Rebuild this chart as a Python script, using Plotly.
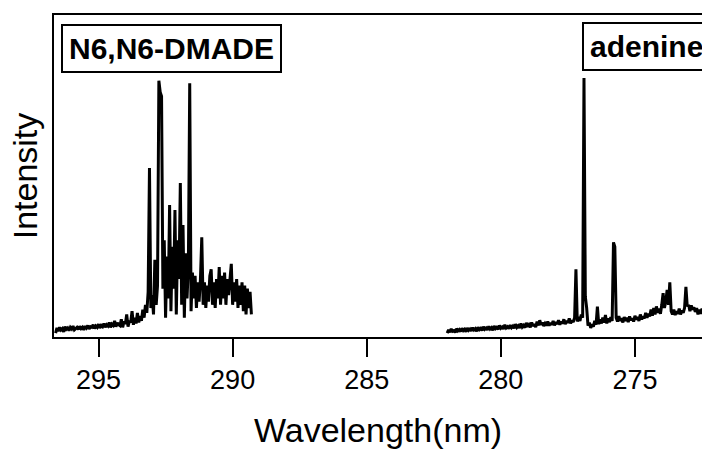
import numpy as np
import plotly.graph_objects as go

# N6,N6-DMADE spectrum: wavelength grid start/step (nm) and intensities
dmade_start = 296.60
dmade_step = 0.05
dmade_int = [
    0.012, 0.028, 0.018, 0.030, 0.022, 0.026, 0.016, 0.032, 0.024, 0.028,
    0.020, 0.030, 0.025, 0.034, 0.022, 0.028, 0.030, 0.024, 0.033, 0.026,
    0.030, 0.022, 0.034, 0.028, 0.036, 0.025, 0.032, 0.030, 0.038, 0.026,
    0.034, 0.030, 0.040, 0.028, 0.036, 0.032, 0.042, 0.030, 0.038, 0.034,
    0.045, 0.030, 0.040, 0.036, 0.050, 0.032, 0.044, 0.038,
    0.035, 0.055, 0.030, 0.048, 0.040, 0.070, 0.032, 0.050, 0.045, 0.080,
    0.038, 0.060, 0.042, 0.075, 0.045, 0.065, 0.050, 0.085, 0.060,
    0.100, 0.075, 0.140, 0.525, 0.090, 0.130, 0.070, 0.240, 0.100, 0.160,
    0.796, 0.760, 0.748, 0.150, 0.300, 0.060, 0.250, 0.120, 0.410, 0.080,
    0.280, 0.150, 0.394, 0.070, 0.300, 0.180, 0.478, 0.100, 0.348, 0.060,
    0.260, 0.120, 0.220, 0.788, 0.080, 0.200, 0.120, 0.190, 0.090, 0.170,
    0.110, 0.180, 0.310, 0.100, 0.170, 0.090, 0.160, 0.110, 0.190, 0.210,
    0.100, 0.170, 0.090, 0.180, 0.120, 0.217, 0.100, 0.190, 0.120, 0.200,
    0.100, 0.180, 0.130, 0.190, 0.227, 0.100, 0.170, 0.110, 0.180, 0.090,
    0.160, 0.100, 0.170, 0.080, 0.160, 0.070, 0.150, 0.090, 0.140, 0.070,
]

# adenine spectrum
adenine_start = 282.00
adenine_step = 0.05
adenine_int = [
    0.012, 0.022, 0.015, 0.025, 0.018, 0.020, 0.014, 0.026, 0.019, 0.023,
    0.017, 0.027, 0.020, 0.024, 0.016, 0.028, 0.021, 0.025, 0.019, 0.029,
    0.022, 0.026, 0.018, 0.030, 0.023, 0.027, 0.020, 0.032, 0.024, 0.028,
    0.022, 0.033, 0.025, 0.029, 0.021, 0.034, 0.026, 0.030, 0.024, 0.036,
    0.027, 0.031, 0.025, 0.038, 0.028, 0.032, 0.026, 0.037, 0.029, 0.034,
    0.027, 0.040, 0.030, 0.035, 0.028, 0.042, 0.031, 0.036, 0.029, 0.044,
    0.032, 0.038, 0.030, 0.045, 0.034, 0.040, 0.031, 0.048, 0.036, 0.052,
    0.038, 0.045, 0.034, 0.042, 0.036, 0.048, 0.035, 0.044, 0.038, 0.050,
    0.036, 0.046, 0.040, 0.052, 0.038, 0.048, 0.042, 0.055, 0.040, 0.050,
    0.044, 0.058, 0.042, 0.052, 0.046, 0.060,
    0.210, 0.048, 0.062, 0.050, 0.070, 0.060, 0.804, 0.125, 0.090, 0.035,
    0.045, 0.028, 0.040, 0.032, 0.050, 0.038, 0.094, 0.040, 0.055, 0.042,
    0.060, 0.045, 0.068, 0.042, 0.058, 0.046, 0.062, 0.050, 0.294, 0.280,
    0.060, 0.048, 0.065, 0.050, 0.058, 0.045, 0.062, 0.050, 0.060, 0.046,
    0.064, 0.052, 0.058, 0.048, 0.066, 0.054, 0.062, 0.050, 0.070, 0.055,
    0.064, 0.058, 0.075, 0.060, 0.072, 0.064, 0.085, 0.066, 0.090, 0.070,
    0.095, 0.075, 0.088, 0.072, 0.100, 0.136, 0.090, 0.110, 0.146, 0.100,
    0.170, 0.080, 0.070, 0.085, 0.068, 0.080, 0.072, 0.088, 0.070, 0.082,
    0.075, 0.090, 0.156, 0.095, 0.100, 0.080, 0.098, 0.085, 0.092, 0.078,
    0.090, 0.070, 0.085, 0.072, 0.088, 0.075, 0.082,
]

tick_vals = [295, 290, 285, 280, 275]
tick_text = ["295", "290", "285", "280", "275"]
labels = ["N6,N6-DMADE", "adenine"]

dmade_wl = dmade_start - dmade_step * np.arange(len(dmade_int))
adenine_wl = adenine_start - adenine_step * np.arange(len(adenine_int))

FONT = "Liberation Sans, Arial, sans-serif"

fig = go.Figure()
for wl, inten in [(dmade_wl, dmade_int), (adenine_wl, adenine_int)]:
    fig.add_trace(go.Scatter(x=wl, y=inten, mode="lines",
                             line=dict(color="black", width=3),
                             showlegend=False, hoverinfo="skip"))

fig.update_layout(
    width=702, height=449,
    margin=dict(l=54, r=0, t=15, b=112),
    paper_bgcolor="white", plot_bgcolor="white",
    font=dict(family=FONT, color="black"),
    xaxis=dict(
        range=[296.66, 272.5], tickvals=tick_vals, ticktext=tick_text,
        ticks="outside", ticklen=18, tickwidth=2, tickcolor="black",
        showline=True, linewidth=2, linecolor="black", mirror=True,
        showgrid=False, zeroline=False, automargin=False,
        tickfont=dict(size=27, family=FONT, color="black"),
        title=dict(text="Wavelength(nm)", font=dict(size=34, family=FONT, color="black"),
                   standoff=26),
    ),
    yaxis=dict(
        range=[0, 1], showticklabels=False, ticks="",
        showline=True, linewidth=2, linecolor="black", mirror=False,
        showgrid=False, zeroline=False, automargin=False,
        title=dict(text="Intensity", font=dict(size=34, family=FONT, color="black"),
                   standoff=4),
    ),
    annotations=[
        dict(text="<b>%s</b>" % labels[0], xref="paper", yref="paper",
             x=7 / 648, y=(337 - 24) / 322, xanchor="left", yanchor="top",
             showarrow=False, font=dict(size=30, family=FONT, color="black"),
             bordercolor="black", borderwidth=2, borderpad=6, bgcolor="white"),
        dict(text="<b>%s</b>" % labels[1], xref="paper", yref="paper",
             x=528 / 648, y=(337 - 22) / 322, xanchor="left", yanchor="top",
             showarrow=False, font=dict(size=30, family=FONT, color="black"),
             bordercolor="black", borderwidth=2, borderpad=6, bgcolor="white"),
    ],
)

fig.write_html(
    "out.html",
    config={"displayModeBar": False},
    post_script="document.body.style.margin='0';document.body.style.overflow='hidden';",
)
